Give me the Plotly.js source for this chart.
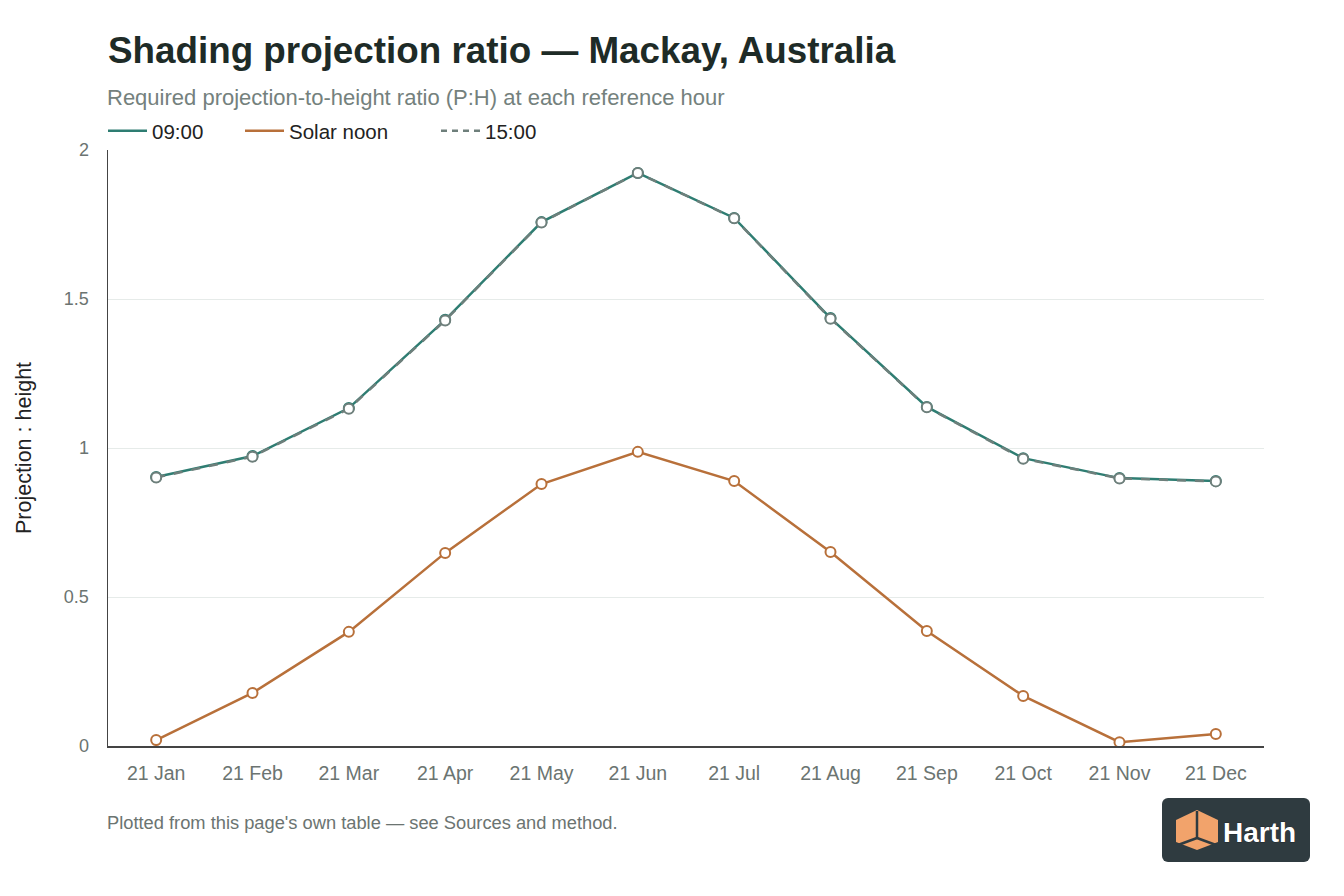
<!DOCTYPE html>
<html>
<head>
<meta charset="utf-8">
<script src="https://cdn.plot.ly/plotly-3.0.1.min.js"></script>
<style>
  html, body { margin:0; padding:0; background:#fff; }
  #chart { width:1344px; height:896px; }
  #logo { position:absolute; left:1162px; top:798px; width:148px; height:64px; background:#2f3b40; border-radius:6px; }
</style>
</head>
<body>
<div id="chart"></div>
<div id="logo">
  <svg width="148" height="64" viewBox="0 0 148 64">
    <polygon points="14,22 35,12 56,22 56,44 35,52 14,44" fill="#f2a36b"/>
    <line x1="35" y1="13" x2="35" y2="40" stroke="#2f3b40" stroke-width="2.5"/>
    <line x1="35" y1="40" x2="16" y2="47" stroke="#2f3b40" stroke-width="2.5"/>
    <line x1="35" y1="40" x2="54" y2="47" stroke="#2f3b40" stroke-width="2.5"/>
    <text x="61" y="44" font-family="Liberation Sans, Arial, sans-serif" font-weight="bold" font-size="28" fill="#ffffff" stroke="#111" stroke-width="0.6" paint-order="stroke">Harth</text>
  </svg>
</div>
<script>
const months = ["21 Jan","21 Feb","21 Mar","21 Apr","21 May","21 Jun","21 Jul","21 Aug","21 Sep","21 Oct","21 Nov","21 Dec"];
const am0900 = [0.903, 0.973, 1.134, 1.430, 1.758, 1.923, 1.772, 1.436, 1.138, 0.966, 0.899, 0.889];
const solarNoon = [0.020, 0.178, 0.383, 0.648, 0.879, 0.987, 0.889, 0.651, 0.386, 0.168, 0.013, 0.040];
const pm1500 = [0.901, 0.971, 1.132, 1.428, 1.757, 1.923, 1.771, 1.434, 1.137, 0.964, 0.898, 0.888];
const yTicks = [0, 0.5, 1, 1.5, 2];
const yTickText = ["0", "0.5", "1", "1.5", "2"];
const seriesNames = ["09:00", "Solar noon", "15:00"];

const teal = "#2e7d72";
const orange = "#b8703a";
const grey = "#6e7f7b";

function series(name, y, color, dash) {
  return {
    type: "scatter", mode: "lines+markers", name: name,
    x: months, y: y, showlegend: false,
    line: { color: color, width: 2.5, dash: dash },
    marker: { symbol: "circle", size: 10, color: "#ffffff", line: { color: color, width: 2 } },
    hoverinfo: "skip"
  };
}
function legendEntry(name, color, dash, legendId) {
  return {
    type: "scatter", mode: "lines", name: name, legend: legendId,
    x: [months[0]], y: [null], showlegend: true,
    line: { color: color, width: 2.5, dash: dash }, hoverinfo: "skip"
  };
}

const data = [
  series(seriesNames[0], am0900, teal, "solid"),
  series(seriesNames[1], solarNoon, orange, "solid"),
  series(seriesNames[2], pm1500, grey, "dash"),
  legendEntry(seriesNames[0], teal, "solid", "legend"),
  legendEntry(seriesNames[1], orange, "solid", "legend2"),
  legendEntry(seriesNames[2], grey, "6px,5px", "legend3")
];

const plotL = 108, plotW = 1156, plotT = 150, plotH = 596;
function px2x(px) { return (px - plotL) / plotW; }
function py2y(py) { return (plotT + plotH - py) / plotH; }

const legendBase = {
  orientation: "h", xanchor: "left", y: py2y(131), yanchor: "middle",
  font: { size: 20.5, color: "#222" }, itemwidth: 39, bgcolor: "rgba(0,0,0,0)"
};

const layout = {
  width: 1344, height: 896,
  paper_bgcolor: "#ffffff", plot_bgcolor: "#ffffff",
  margin: { l: 108, r: 80, t: 150, b: 150 },
  font: { family: "Liberation Sans, Arial, sans-serif", color: "#6b7471" },
  title: {
    text: "<b>Shading projection ratio — Mackay, Australia</b>",
    x: 108/1344, xanchor: "left", xref: "container",
    y: 1 - 50/896, yanchor: "middle", yref: "container",
    font: { size: 36.8, color: "#1e2b27", family: "Liberation Sans, Arial, sans-serif" }
  },
  showlegend: true,
  legend: Object.assign({}, legendBase, { x: px2x(103) }),
  legend2: Object.assign({}, legendBase, { x: px2x(240) }),
  legend3: Object.assign({}, legendBase, { x: px2x(436) }),
  xaxis: {
    type: "category", range: [-0.5, 11.5],
    showgrid: false, zeroline: false,
    showline: true, linecolor: "#444", linewidth: 1.5,
    ticks: "", tickfont: { size: 19.5, color: "#6b7471" },
    ticklabelstandoff: 9
  },
  yaxis: {
    range: [0, 2], tickvals: yTicks, ticktext: yTickText,
    showgrid: true, gridcolor: "#e6ebe9", gridwidth: 1,
    zeroline: false, showline: true, linecolor: "#444", linewidth: 1.5,
    ticks: "", tickfont: { size: 18, color: "#6b7471" },
    ticklabelstandoff: 14,
    title: { text: "Projection : height", font: { size: 21.5, color: "#222" }, standoff: 26 }
  },
  annotations: [
    {
      text: "Required projection-to-height ratio (P:H) at each reference hour",
      xref: "paper", yref: "paper", x: 0, xanchor: "left", xshift: -3,
      y: py2y(97), yanchor: "middle", showarrow: false,
      font: { size: 22, color: "#74817d" }
    },
    {
      text: "Plotted from this page's own table — see Sources and method.",
      xref: "paper", yref: "paper", x: 0, xanchor: "left", xshift: -3,
      y: py2y(822), yanchor: "middle", showarrow: false,
      font: { size: 18.3, color: "#6b7471" }
    }
  ]
};

Plotly.newPlot("chart", data, layout, { displayModeBar: false, staticPlot: true });
</script>
</body>
</html>
